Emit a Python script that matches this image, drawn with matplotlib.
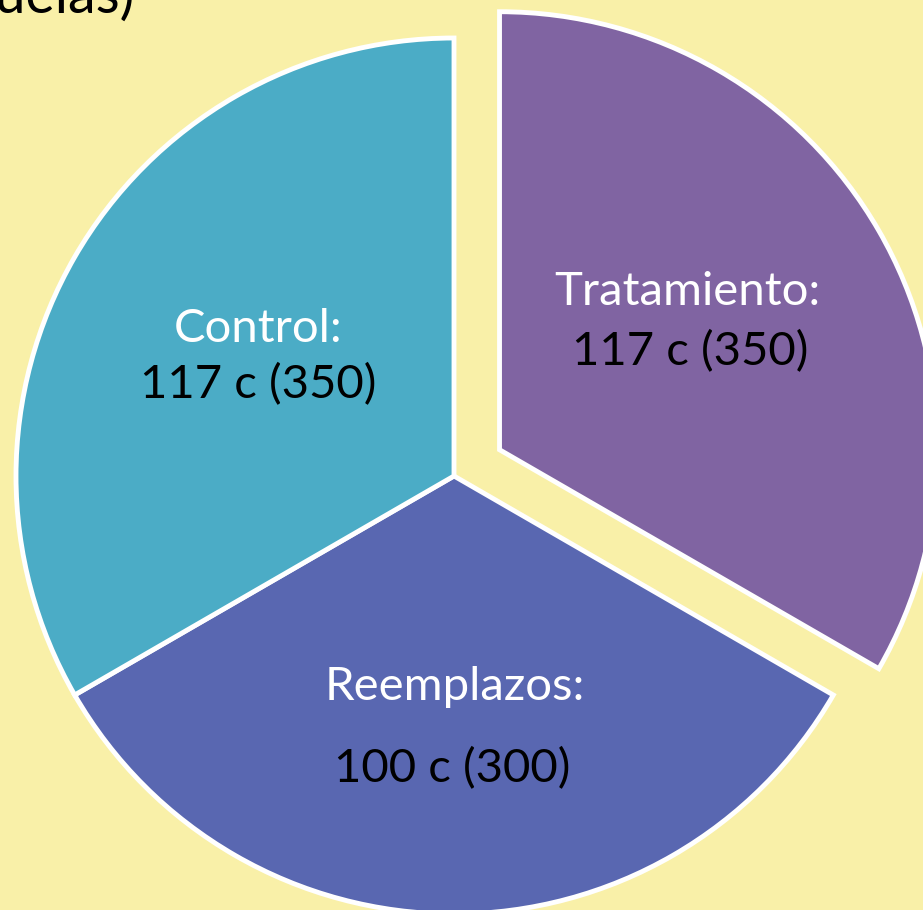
import matplotlib
matplotlib.use("Agg")
import matplotlib.pyplot as plt

# Data
categories = ["Tratamiento", "Reemplazos", "Control"]
shares = [1 / 3, 1 / 3, 1 / 3]          # slices drawn as equal thirds
counts = ["117 c (350)", "100 c (300)", "117 c (350)"]
explode = [0.12, 0, 0]
colors = ["#8064A2", "#5967B1", "#4BACC6"]
bg = "#F9F0A8"

W, H = 923, 910
fig = plt.figure(figsize=(W / 100, H / 100), dpi=100, facecolor=bg)
ax = fig.add_axes([0, 0, 1, 1])
ax.set_facecolor(bg)

ax.pie(shares, explode=explode, colors=colors, startangle=90, counterclock=False,
       radius=1.0, center=(0, 0),
       wedgeprops=dict(edgecolor="white", linewidth=3.5, joinstyle="miter"))

# pixel-consistent limits: pie center at (454, 476) px, radius 438 px
R = 438.0
cx, cy = 454.0, 476.0
ax.set_xlim(-cx / R, (W - cx) / R)
ax.set_ylim(-(H - cy) / R, cy / R)
ax.set_aspect("auto")
ax.axis("off")

def px(x, y):
    return ((x - cx) / R, (cy - y) / R)

font = "Lato"
fs = 34
# label positions (pixel centers / baselines)
label_pos = {
    "Tratamiento": ((687, 305), (690, 365)),
    "Reemplazos": ((455, 700), (452, 782)),
    "Control": ((258, 342), (258, 398)),
}
for cat, cnt in zip(categories, counts):
    (x1, y1), (x2, y2) = label_pos[cat]
    ax.text(*px(x1, y1), cat + ":", ha="center", va="baseline", color="white",
            fontsize=fs, family=font)
    ax.text(*px(x2, y2), cnt, ha="center", va="baseline", color="black",
            fontsize=fs, family=font)

# partially visible title fragment at top-left
fig.text(135 / W, 1 - 13 / H, "(escuelas)", ha="right", va="baseline",
         fontsize=40, family=font, color="black")

fig.savefig("out.png", dpi=100, facecolor=bg)
